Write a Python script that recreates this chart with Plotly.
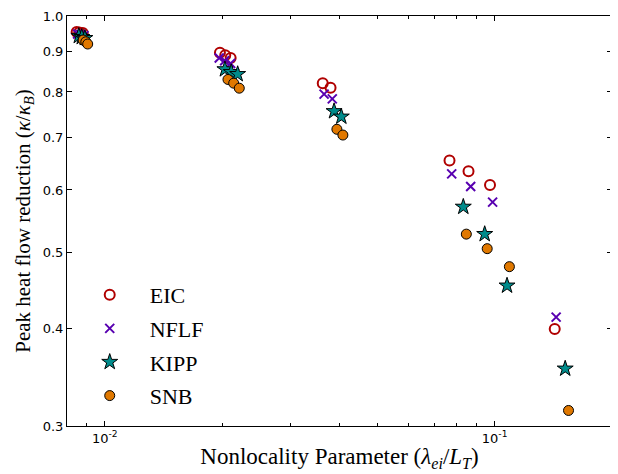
import plotly.graph_objects as go

# Data (log-log)
eic_x = [0.00847, 0.00860, 0.00878, 0.01974, 0.02037, 0.02103, 0.03623, 0.03794, 0.0766, 0.0857, 0.0973, 0.1426]
eic_y = [0.954, 0.953, 0.951, 0.898, 0.891, 0.884, 0.821, 0.810, 0.654, 0.634, 0.609, 0.399]

nflf_x = [0.00852, 0.00868, 0.00884, 0.01966, 0.02030, 0.02103, 0.03652, 0.03833, 0.0776, 0.0868, 0.0988, 0.1438]
nflf_y = [0.9485, 0.947, 0.944, 0.884, 0.877, 0.870, 0.795, 0.784, 0.629, 0.606, 0.579, 0.413]

kipp_x = [0.00858, 0.00873, 0.00889, 0.02033, 0.02110, 0.02192, 0.03874, 0.04043, 0.0831, 0.0943, 0.1076, 0.1517]
kipp_y = [0.943, 0.940, 0.937, 0.855, 0.848, 0.843, 0.756, 0.744, 0.571, 0.527, 0.453, 0.355]

snb_x = [0.00880, 0.00894, 0.00904, 0.0207, 0.02141, 0.02213, 0.03939, 0.04081, 0.0846, 0.0957, 0.1091, 0.1547]
snb_y = [0.932, 0.927, 0.921, 0.830, 0.821, 0.809, 0.717, 0.705, 0.527, 0.505, 0.479, 0.314]

y_ticks = [0.3, 0.4, 0.5, 0.6, 0.7, 0.8, 0.9, 1.0]
y_tick_text = ["0.3", "0.4", "0.5", "0.6", "0.7", "0.8", "0.9", "1.0"]
x_ticks = [0.01, 0.1]
x_tick_text = ["10<sup>-2</sup>", "10<sup>-1</sup>"]

fig = go.Figure()
fig.add_trace(go.Scatter(
    x=eic_x, y=eic_y, mode="markers", name="EIC", legendgroup="a",
    marker=dict(symbol="circle-open", size=10, color="#b00000", line=dict(width=2, color="#b00000"))))
fig.add_trace(go.Scatter(
    x=nflf_x, y=nflf_y, mode="markers", name="NFLF", legendgroup="b",
    marker=dict(symbol="x-thin-open", size=9, color="#5800b0", line=dict(width=2, color="#5800b0"))))
fig.add_trace(go.Scatter(
    x=kipp_x, y=kipp_y, mode="markers", name="KIPP", legendgroup="c",
    marker=dict(symbol="star", size=12, color="#008b8b", line=dict(width=1, color="black"))))
fig.add_trace(go.Scatter(
    x=snb_x, y=snb_y, mode="markers", name="SNB", legendgroup="d",
    marker=dict(symbol="circle", size=10, color="#e07800", line=dict(width=1, color="black"))))

axis_common = dict(
    showgrid=False, zeroline=False, showline=True, linecolor="black", linewidth=1,
    mirror="ticks", ticks="inside", tickcolor="black", automargin=False,
    tickfont=dict(family="DejaVu Sans", size=13, color="black"),
)

# page body has an 8px default margin, so the figure is slightly smaller
fig.update_layout(
    width=610, height=466,
    margin=dict(l=59, r=6, t=8, b=48),
    paper_bgcolor="white", plot_bgcolor="white",
    font=dict(family="Liberation Serif", color="black"),
    showlegend=True,
    legend=dict(
        x=0.005, y=0.022, xanchor="left", yanchor="bottom",
        font=dict(family="Liberation Serif", size=22, color="black"),
        bgcolor="rgba(0,0,0,0)", tracegroupgap=2, itemwidth=70,
    ),
    xaxis=dict(
        type="log", range=[-2.09691, -0.69897],
        tickvals=x_ticks, ticktext=x_tick_text, ticklen=5,
        minor=dict(dtick="D1", ticks="inside", ticklen=3, tickcolor="black", showgrid=False),
        title=dict(text="Nonlocality Parameter (<i>λ<sub>ei</sub></i>/<i>L<sub>T</sub></i>)",
                   font=dict(family="Liberation Serif", size=23, color="black"), standoff=3),
        **axis_common,
    ),
    yaxis=dict(
        type="log", range=[-0.522879, 0.0],
        tickvals=y_ticks, ticktext=y_tick_text, ticklen=5,
        title=dict(text="Peak heat flow reduction (<i>κ</i>/<i>κ<sub>B</sub></i>)",
                   font=dict(family="Liberation Serif", size=21, color="black"), standoff=6),
        **axis_common,
    ),
)

fig.write_html("out.html")
